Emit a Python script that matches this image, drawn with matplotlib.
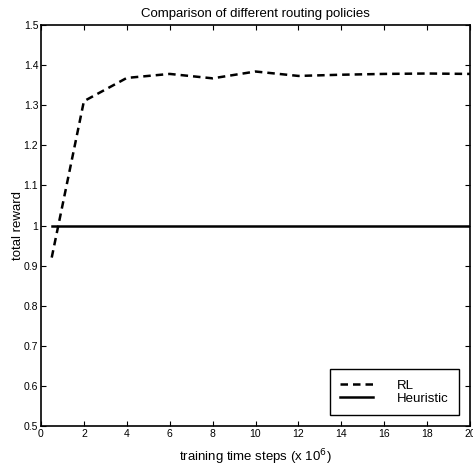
import matplotlib
matplotlib.use("Agg")
import matplotlib.pyplot as plt

# training steps (x 10^6) and rewards
steps = [0.5, 2, 4, 6, 8, 10, 12, 14, 16, 18, 20]
rl_reward = [0.92, 1.31, 1.368, 1.378, 1.367, 1.384, 1.373, 1.376, 1.378, 1.379, 1.378]
heuristic_reward = [1.0, 1.0, 1.0, 1.0, 1.0, 1.0, 1.0, 1.0, 1.0, 1.0, 1.0]
xticks = [0, 2, 4, 6, 8, 10, 12, 14, 16, 18, 20]
yticks = [0.5, 0.6, 0.7, 0.8, 0.9, 1, 1.1, 1.2, 1.3, 1.4, 1.5]

plt.rcParams['font.family'] = ['Liberation Sans', 'DejaVu Sans']

fig = plt.figure(figsize=(4.73, 4.75), dpi=100)
ax = fig.add_axes([41/473, 1-426/475, (470-41)/473, (426-25)/475])

ax.plot(steps, rl_reward, color='black', linestyle=(0, (3, 2)), linewidth=1.8)
ax.plot(steps, heuristic_reward, color='black', linestyle='-', linewidth=1.8)

ax.set_xlim(0, 20)
ax.set_ylim(0.5, 1.5)
ax.set_xticks(xticks)
ax.set_xticklabels([str(t) for t in xticks])
ax.set_yticks(yticks)
ax.set_yticklabels([('%g' % t) for t in yticks])
ax.tick_params(direction='in', top=True, right=True, labelsize=7.5, length=3.5, width=0.8, pad=2)
for s in ax.spines.values():
    s.set_linewidth(1.2)

ax.set_title("Comparison of different routing policies", fontsize=9.5, pad=6)
ax.set_xlabel("training time steps (x 10$^6$)", fontsize=9.5, labelpad=6)
ax.set_ylabel("total reward", fontsize=9.5, labelpad=0)

leg = ax.legend(('RL', 'Heuristic'), loc='lower right', fontsize=9.5, fancybox=False,
                edgecolor='black', framealpha=1, handlelength=2.5, handletextpad=1.8,
                borderpad=0.8, labelspacing=0.05, borderaxespad=0.8)
leg.get_frame().set_linewidth(1.0)

fig.savefig("out.png", dpi=100)
